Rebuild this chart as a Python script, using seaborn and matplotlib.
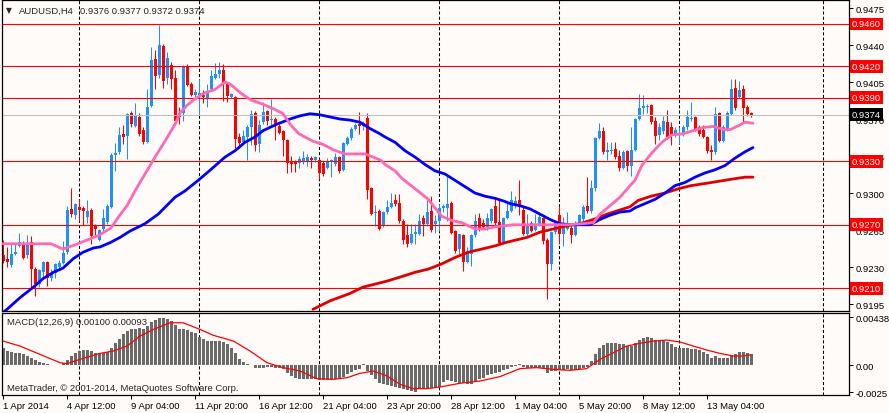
import numpy as np
import matplotlib
matplotlib.use("Agg")
import matplotlib.pyplot as plt
import seaborn as sns

# ---- AUDUSD H4 bars ----
opens = [
    0.9241, 0.9238, 0.9232, 0.9242, 0.9250, 0.9253, 0.9241, 0.9254, 0.9228, 0.9214,
    0.9225, 0.9235, 0.9220, 0.9224, 0.9230, 0.9234, 0.9244, 0.9285, 0.9279, 0.9287,
    0.9286, 0.9277, 0.9284, 0.9269, 0.9256, 0.9266, 0.9273, 0.9287, 0.9336, 0.9339,
    0.9356, 0.9354, 0.9376, 0.9363, 0.9372, 0.9360, 0.9348, 0.9382, 0.9427, 0.9412,
    0.9439, 0.9409, 0.9421, 0.9409, 0.9376, 0.9376, 0.9420, 0.9403, 0.9393, 0.9392,
    0.9393, 0.9389, 0.9398, 0.9409, 0.9413, 0.9416, 0.9403, 0.9391, 0.9391, 0.9353,
    0.9348, 0.9353, 0.9362, 0.9376, 0.9346, 0.9367, 0.9378, 0.9369, 0.9370, 0.9363,
    0.9359, 0.9350, 0.9330, 0.9329, 0.9328, 0.9330, 0.9329, 0.9333, 0.9331, 0.9331,
    0.9328, 0.9324, 0.9329, 0.9327, 0.9334, 0.9322, 0.9346, 0.9352, 0.9361, 0.9365,
    0.9363, 0.9371, 0.9305, 0.9281, 0.9283, 0.9269, 0.9282, 0.9287, 0.9293, 0.9291,
    0.9274, 0.9260, 0.9253, 0.9261, 0.9261, 0.9276, 0.9271, 0.9283, 0.9271, 0.9274,
    0.9286, 0.9286, 0.9291, 0.9264, 0.9247, 0.9260, 0.9235, 0.9242, 0.9260, 0.9276,
    0.9272, 0.9268, 0.9274, 0.9288, 0.9273, 0.9254, 0.9276, 0.9283, 0.9288, 0.9293,
    0.9284, 0.9261, 0.9272, 0.9265, 0.9271, 0.9276, 0.9256, 0.9233, 0.9263, 0.9279,
    0.9261, 0.9266, 0.9267, 0.9260, 0.9272, 0.9275, 0.9288, 0.9283, 0.9305, 0.9352,
    0.9359, 0.9339, 0.9340, 0.9342, 0.9335, 0.9324, 0.9340, 0.9326, 0.9341, 0.9370,
    0.9380, 0.9381, 0.9383, 0.9368, 0.9355, 0.9359, 0.9367, 0.9362, 0.9356, 0.9355,
    0.9356, 0.9362, 0.9370, 0.9372, 0.9362, 0.9360, 0.9353, 0.9341, 0.9339, 0.9376,
    0.9349, 0.9360, 0.9375, 0.9399, 0.9391, 0.9398, 0.9381, 0.9376,
]
highs = [
    0.9256, 0.9249, 0.9252, 0.9252, 0.9262, 0.9255, 0.9260, 0.9259, 0.9230, 0.9228,
    0.9236, 0.9236, 0.9228, 0.9234, 0.9237, 0.9255, 0.9288, 0.9305, 0.9291, 0.9294,
    0.9288, 0.9293, 0.9286, 0.9271, 0.9266, 0.9285, 0.9290, 0.9338, 0.9347, 0.9362,
    0.9364, 0.9376, 0.9378, 0.9385, 0.9376, 0.9362, 0.9398, 0.9438, 0.9435, 0.9459,
    0.9441, 0.9433, 0.9424, 0.9416, 0.9381, 0.9421, 0.9422, 0.9405, 0.9398, 0.9408,
    0.9397, 0.9403, 0.9416, 0.9423, 0.9424, 0.9422, 0.9405, 0.9395, 0.9392, 0.9357,
    0.9360, 0.9364, 0.9379, 0.9378, 0.9369, 0.9386, 0.9379, 0.9389, 0.9372, 0.9365,
    0.9360, 0.9351, 0.9335, 0.9331, 0.9335, 0.9340, 0.9337, 0.9335, 0.9335, 0.9332,
    0.9330, 0.9333, 0.9332, 0.9338, 0.9335, 0.9348, 0.9354, 0.9362, 0.9366, 0.9377,
    0.9368, 0.9376, 0.9306, 0.9289, 0.9285, 0.9283, 0.9293, 0.9300, 0.9299, 0.9299,
    0.9275, 0.9271, 0.9271, 0.9271, 0.9280, 0.9279, 0.9293, 0.9297, 0.9279, 0.9290,
    0.9290, 0.9317, 0.9292, 0.9265, 0.9261, 0.9261, 0.9249, 0.9261, 0.9280, 0.9281,
    0.9275, 0.9281, 0.9286, 0.9296, 0.9293, 0.9277, 0.9291, 0.9302, 0.9297, 0.9312,
    0.9288, 0.9280, 0.9274, 0.9280, 0.9280, 0.9277, 0.9257, 0.9264, 0.9274, 0.9288,
    0.9277, 0.9282, 0.9269, 0.9274, 0.9280, 0.9289, 0.9315, 0.9312, 0.9353, 0.9366,
    0.9362, 0.9348, 0.9348, 0.9348, 0.9341, 0.9341, 0.9341, 0.9362, 0.9371, 0.9394,
    0.9393, 0.9384, 0.9384, 0.9372, 0.9366, 0.9373, 0.9379, 0.9367, 0.9362, 0.9362,
    0.9364, 0.9379, 0.9386, 0.9373, 0.9364, 0.9364, 0.9354, 0.9345, 0.9381, 0.9377,
    0.9364, 0.9378, 0.9408, 0.9408, 0.9406, 0.9402, 0.9383, 0.9377,
]
lows = [
    0.9234, 0.9230, 0.9230, 0.9241, 0.9249, 0.9238, 0.9239, 0.9211, 0.9203, 0.9211,
    0.9220, 0.9212, 0.9217, 0.9220, 0.9228, 0.9233, 0.9242, 0.9277, 0.9275, 0.9274,
    0.9270, 0.9272, 0.9252, 0.9258, 0.9255, 0.9264, 0.9271, 0.9286, 0.9321, 0.9337,
    0.9346, 0.9332, 0.9362, 0.9362, 0.9354, 0.9346, 0.9347, 0.9381, 0.9398, 0.9409,
    0.9399, 0.9403, 0.9398, 0.9367, 0.9365, 0.9368, 0.9401, 0.9392, 0.9391, 0.9374,
    0.9385, 0.9381, 0.9397, 0.9408, 0.9409, 0.9387, 0.9386, 0.9390, 0.9343, 0.9343,
    0.9346, 0.9331, 0.9345, 0.9340, 0.9339, 0.9365, 0.9364, 0.9364, 0.9350, 0.9356,
    0.9335, 0.9319, 0.9320, 0.9320, 0.9324, 0.9327, 0.9326, 0.9324, 0.9329, 0.9313,
    0.9316, 0.9323, 0.9315, 0.9326, 0.9319, 0.9321, 0.9345, 0.9350, 0.9360, 0.9356,
    0.9360, 0.9294, 0.9279, 0.9269, 0.9265, 0.9268, 0.9280, 0.9286, 0.9288, 0.9272,
    0.9252, 0.9249, 0.9252, 0.9252, 0.9260, 0.9259, 0.9269, 0.9263, 0.9262, 0.9264,
    0.9282, 0.9274, 0.9261, 0.9243, 0.9242, 0.9226, 0.9234, 0.9231, 0.9258, 0.9264,
    0.9266, 0.9265, 0.9272, 0.9269, 0.9252, 0.9252, 0.9275, 0.9282, 0.9286, 0.9279,
    0.9260, 0.9259, 0.9263, 0.9264, 0.9269, 0.9252, 0.9200, 0.9227, 0.9261, 0.9252,
    0.9250, 0.9265, 0.9253, 0.9259, 0.9271, 0.9274, 0.9281, 0.9281, 0.9302, 0.9351,
    0.9337, 0.9331, 0.9337, 0.9332, 0.9321, 0.9323, 0.9321, 0.9316, 0.9340, 0.9369,
    0.9375, 0.9376, 0.9365, 0.9346, 0.9350, 0.9356, 0.9351, 0.9345, 0.9353, 0.9346,
    0.9354, 0.9360, 0.9368, 0.9359, 0.9354, 0.9352, 0.9338, 0.9331, 0.9337, 0.9348,
    0.9348, 0.9359, 0.9374, 0.9379, 0.9390, 0.9367, 0.9373, 0.9372,
]
closes = [
    0.9236, 0.9235, 0.9242, 0.9244, 0.9254, 0.9239, 0.9252, 0.9228, 0.9214, 0.9227,
    0.9235, 0.9220, 0.9223, 0.9233, 0.9234, 0.9243, 0.9284, 0.9280, 0.9290, 0.9284,
    0.9283, 0.9283, 0.9259, 0.9266, 0.9265, 0.9276, 0.9288, 0.9336, 0.9338, 0.9355,
    0.9353, 0.9375, 0.9365, 0.9374, 0.9356, 0.9348, 0.9381, 0.9426, 0.9411, 0.9440,
    0.9406, 0.9428, 0.9408, 0.9368, 0.9372, 0.9420, 0.9402, 0.9393, 0.9396, 0.9395,
    0.9391, 0.9395, 0.9411, 0.9413, 0.9416, 0.9403, 0.9392, 0.9394, 0.9351, 0.9347,
    0.9354, 0.9362, 0.9375, 0.9345, 0.9364, 0.9377, 0.9368, 0.9370, 0.9365, 0.9357,
    0.9350, 0.9328, 0.9327, 0.9327, 0.9332, 0.9333, 0.9334, 0.9331, 0.9334, 0.9319,
    0.9318, 0.9329, 0.9331, 0.9334, 0.9321, 0.9347, 0.9352, 0.9361, 0.9364, 0.9363,
    0.9366, 0.9303, 0.9280, 0.9282, 0.9266, 0.9282, 0.9287, 0.9291, 0.9290, 0.9274,
    0.9256, 0.9252, 0.9261, 0.9263, 0.9274, 0.9271, 0.9282, 0.9265, 0.9274, 0.9286,
    0.9288, 0.9290, 0.9262, 0.9245, 0.9261, 0.9235, 0.9244, 0.9260, 0.9274, 0.9266,
    0.9268, 0.9276, 0.9285, 0.9272, 0.9253, 0.9276, 0.9283, 0.9293, 0.9292, 0.9287,
    0.9261, 0.9271, 0.9264, 0.9271, 0.9277, 0.9255, 0.9233, 0.9263, 0.9272, 0.9261,
    0.9268, 0.9271, 0.9260, 0.9272, 0.9279, 0.9287, 0.9283, 0.9305, 0.9352, 0.9359,
    0.9339, 0.9341, 0.9341, 0.9334, 0.9324, 0.9339, 0.9326, 0.9341, 0.9370, 0.9380,
    0.9382, 0.9382, 0.9367, 0.9354, 0.9362, 0.9368, 0.9353, 0.9355, 0.9360, 0.9356,
    0.9362, 0.9372, 0.9371, 0.9360, 0.9356, 0.9353, 0.9340, 0.9339, 0.9375, 0.9349,
    0.9362, 0.9376, 0.9398, 0.9380, 0.9397, 0.9380, 0.9375, 0.9374,
]

# moving averages, sampled along the chart (bar index, price)
ma_pink_bar = [0, 4, 7, 10, 12, 15, 18, 22, 24, 27, 29, 31, 33, 35.5, 38, 40.5, 43, 44.3,
               46, 48, 50, 53, 55.5, 56.8, 59.3, 62, 65, 68, 70, 72, 74, 77.5, 80, 82.5,
               85.5, 90.5, 92.5, 94.5, 95.5, 98, 99.7, 102, 104.7, 106.3, 108, 109.7,
               112.2, 114.7, 118, 120.5, 123, 125.5, 127.6, 132.6, 136.75, 141, 145,
               147.6, 149.25, 151.75, 154.25, 156.75, 158, 159.7, 162, 164.7, 167.2,
               170, 172.5, 175, 177.5, 180.2, 181.8, 183.5, 185.5, 187.5]
ma_pink_val = [0.9252, 0.9252, 0.9252, 0.9252, 0.9252, 0.9247, 0.9251, 0.9257, 0.9260,
               0.9267, 0.9278, 0.9288, 0.9302, 0.9318, 0.9334, 0.9349, 0.9365, 0.9376,
               0.9383, 0.9389, 0.9394, 0.9398, 0.9405, 0.9403, 0.9395, 0.9388, 0.9384,
               0.9379, 0.9375, 0.9364, 0.9356, 0.9349, 0.9346, 0.9341, 0.9337, 0.9337,
               0.9334, 0.9331, 0.9327, 0.9321, 0.9314, 0.9307, 0.9299, 0.9294, 0.9286,
               0.9278, 0.9274, 0.9272, 0.9266, 0.9266, 0.9268, 0.9269, 0.9270, 0.9270,
               0.9270, 0.9270, 0.9271, 0.9272, 0.9280, 0.9288, 0.9296, 0.9307, 0.9312,
               0.9326, 0.9337, 0.9348, 0.9355, 0.9356, 0.9359, 0.9362, 0.9363, 0.9360,
               0.9360, 0.9363, 0.9367, 0.9366]

ma_blue_bar = [0, 1, 4.25, 7.6, 10, 12.6, 15, 17.6, 20, 22.6, 24.25, 26.75, 29.25, 31.75,
               35.5, 38.8, 43, 45.5, 48.8, 52.2, 55.5, 58, 60.5, 63, 65, 68.4, 71.75,
               74.25, 76.75, 79.25, 81.75, 84.25, 86.75, 89.25, 91.75, 94.25, 95.5, 98,
               100.5, 103, 105.5, 108, 110.5, 113, 115.5, 118, 120.5, 123, 125.5, 126.75,
               129.25, 131.75, 134.25, 136.75, 139.25, 141.75, 144.25, 146.75, 149.25,
               151.75, 154.25, 156.75, 158, 160.5, 163, 165.5, 168, 170.5, 173, 175.5,
               178, 180.5, 183, 185.5, 187.5]
ma_blue_val = [0.9187, 0.9190, 0.9201, 0.9211, 0.9219, 0.9225, 0.9229, 0.9238, 0.9244,
               0.9248, 0.9249, 0.9253, 0.9258, 0.9264, 0.9271, 0.9280, 0.9296, 0.9302,
               0.9312, 0.9323, 0.9334, 0.9340, 0.9348, 0.9353, 0.9359, 0.9365, 0.9370,
               0.9373, 0.9375, 0.9374, 0.9372, 0.9370, 0.9369, 0.9367, 0.9361, 0.9356,
               0.9353, 0.9348, 0.9340, 0.9334, 0.9327, 0.9321, 0.9318, 0.9312, 0.9306,
               0.9300, 0.9297, 0.9295, 0.9292, 0.9290, 0.9288, 0.9285, 0.9280, 0.9275,
               0.9271, 0.9270, 0.9270, 0.9270, 0.9275, 0.9279, 0.9282, 0.9283, 0.9286,
               0.9290, 0.9294, 0.9300, 0.9307, 0.9310, 0.9315, 0.9319, 0.9322, 0.9326,
               0.9333, 0.9339, 0.9343]

ma_red_bar = [77.5, 81.75, 86.75, 90, 94.25, 96.3, 99.7, 103, 106.3, 109.7, 113, 116.3,
              119.7, 123, 125.5, 127.6, 131, 134.25, 137.6, 141, 144.25, 147.6, 151,
              154.25, 156.75, 158.8, 162, 165.5, 168.8, 172, 175.5, 178.8, 182, 185.5,
              187.5]
ma_red_val = [0.9190, 0.9198, 0.9205, 0.9211, 0.9215, 0.9217, 0.9221, 0.9225, 0.9228,
              0.9233, 0.9239, 0.9244, 0.9247, 0.9250, 0.9253, 0.9255, 0.9258, 0.9263,
              0.9266, 0.9269, 0.9271, 0.9275, 0.9280, 0.9284, 0.9287, 0.9293, 0.9297,
              0.9300, 0.9304, 0.9307, 0.9309, 0.9311, 0.9313, 0.9315, 0.9315]

# MACD(12,26,9) main line, one value per bar
macd_hist = [
    0.00152, 0.00128, 0.00119, 0.00112, 0.00106, 0.00097, 0.00082, 0.00067, 0.00043, 0.00027,
    0.00015, 0.00006, -0.00003, -0.00003, 0.00002, 0.00015, 0.00043, 0.00082, 0.00112, 0.00128,
    0.00137, 0.00137, 0.00128, 0.00112, 0.00112, 0.00112, 0.00119, 0.00158, 0.00198, 0.00240,
    0.00280, 0.00310, 0.00325, 0.00331, 0.00340, 0.00331, 0.00356, 0.00392, 0.00410, 0.00432,
    0.00432, 0.00423, 0.00401, 0.00362, 0.00331, 0.00325, 0.00319, 0.00301, 0.00289, 0.00258,
    0.00240, 0.00219, 0.00219, 0.00219, 0.00219, 0.00210, 0.00188, 0.00158, 0.00112, 0.00058,
    0.00027, 0.00012, 0.00003, -0.00030, -0.00030, -0.00024, -0.00018, -0.00018, -0.00024, -0.00030,
    -0.00040, -0.00070, -0.00100, -0.00116, -0.00125, -0.00131, -0.00131, -0.00131, -0.00131, -0.00140,
    -0.00140, -0.00137, -0.00137, -0.00131, -0.00131, -0.00106, -0.00085, -0.00064, -0.00046, -0.00033,
    0.00006, -0.00055, -0.00094, -0.00131, -0.00161, -0.00176, -0.00185, -0.00192, -0.00198, -0.00207,
    -0.00222, -0.00228, -0.00237, -0.00246, -0.00222, -0.00216, -0.00216, -0.00207, -0.00207, -0.00198,
    -0.00155, -0.00140, -0.00146, -0.00155, -0.00161, -0.00167, -0.00176, -0.00176, -0.00155, -0.00131,
    -0.00116, -0.00094, -0.00085, -0.00076, -0.00064, -0.00046, -0.00033, -0.00021, -0.00006, 0.00006,
    -0.00018, -0.00024, -0.00030, -0.00030, -0.00030, -0.00040, -0.00070, -0.00055, -0.00052, -0.00046,
    -0.00046, -0.00040, -0.00046, -0.00046, -0.00040, -0.00027, -0.00021, 0.00036, 0.00097, 0.00152,
    0.00182, 0.00198, 0.00198, 0.00198, 0.00188, 0.00188, 0.00173, 0.00173, 0.00204, 0.00228,
    0.00249, 0.00258, 0.00249, 0.00228, 0.00228, 0.00219, 0.00210, 0.00188, 0.00167, 0.00158,
    0.00158, 0.00158, 0.00149, 0.00143, 0.00134, 0.00119, 0.00097, 0.00067, 0.00082, 0.00067,
    0.00061, 0.00067, 0.00088, 0.00097, 0.00122, 0.00122, 0.00112, 0.00100,
]
signal_bar = [0, 4.25, 9.25, 14.25, 16, 19.25, 24.25, 27.6, 31, 34.25, 37.6, 41.75, 45,
              49.25, 52.6, 57.6, 61.75, 66, 70, 74.25, 78.4, 82.6, 86, 89.25, 92.6, 96,
              99.25, 102.6, 105.9, 109.25, 114.25, 119.25, 124.25, 129.25, 133.4, 137.6,
              141.75, 145.9, 149.25, 152.6, 155.9, 159.25, 162.6, 166, 169.25, 172.6,
              175.9, 179.25, 182.6, 185, 187]
signal_val = [0.00219, 0.00173, 0.00097, 0.00021, 0.00012, 0.00052, 0.00106, 0.00128,
              0.00173, 0.00264, 0.00325, 0.00386, 0.00386, 0.00325, 0.00271, 0.00219,
              0.00128, 0.00021, -0.00024, -0.00055, -0.00125, -0.00131, -0.00116,
              -0.00076, -0.00055, -0.00100, -0.00176, -0.00216, -0.00216, -0.00201,
              -0.00167, -0.00146, -0.00106, -0.00033, -0.00024, -0.00040, -0.00049,
              -0.00033, 0.00052, 0.00112, 0.00173, 0.00198, 0.00219, 0.00228, 0.00210,
              0.00173, 0.00137, 0.00106, 0.00082, 0.00082, 0.00093]

levels = [0.9460, 0.9420, 0.9390, 0.9330, 0.9270, 0.9210]
last_price = 0.9374
price_ticks = [0.9475, 0.9440, 0.9405, 0.9370, 0.9335, 0.9300, 0.9265, 0.9230, 0.9195]
macd_ticks = [0.00438, 0.0, -0.0025]
macd_tick_labels = ["0.00438", "0.00", "-0.0025"]
date_bars = [0, 16, 32, 48, 64, 80, 96, 112, 128, 144, 160, 176]
date_labels = ["1 Apr 2014", "4 Apr 12:00", "9 Apr 04:00", "11 Apr 20:00",
               "16 Apr 12:00", "21 Apr 04:00", "23 Apr 20:00", "28 Apr 12:00",
               "1 May 04:00", "5 May 20:00", "8 May 12:00", "13 May 04:00"]
grid_bars = [19, 49, 79, 109, 139, 169, 205]

BG = "#FFFBF9"
BULL = "#1E90FF"
BEAR = "#FF0000"

sns.set_style("white")
plt.rcParams["font.family"] = ["Liberation Sans", "DejaVu Sans"]
FS = 6.8

W, H = 889, 414
fig = plt.figure(figsize=(W / 100, H / 100), dpi=100, facecolor=BG)
ax = fig.add_axes([2 / W, 102 / H, 847 / W, 311 / H], facecolor=BG)
axm = fig.add_axes([2 / W, 18 / H, 847 / W, 82 / H], facecolor=BG)

# ---- price panel ----
x = np.arange(len(closes))
o = np.array(opens)
c = np.array(closes)
hi = np.array(highs)
lo = np.array(lows)
cols = np.where(c >= o, BULL, BEAR)

for gb in grid_bars:
    ax.axvline(gb, color="black", lw=0.75, ls=(0, (3, 2)), zorder=0.5)
    axm.axvline(gb, color="black", lw=0.75, ls=(0, (3, 2)), zorder=0.5)

ax.vlines(x, lo, hi, colors=cols, lw=0.75, zorder=2)
ax.bar(x, np.maximum(np.abs(c - o), 0.00008), bottom=np.minimum(o, c),
       width=0.75, color=cols, linewidth=0, zorder=2.2)

ax.axhline(last_price, color="#C0C0C0", lw=0.8, zorder=2.4)
for lv in levels:
    ax.axhline(lv, color="#FF0000", lw=0.8, zorder=2.5)

sns.lineplot(x=ma_red_bar, y=ma_red_val, ax=ax, color="#E00000", lw=2.0, zorder=3)
sns.lineplot(x=ma_blue_bar, y=ma_blue_val, ax=ax, color="#0000FF", lw=2.0, zorder=3.1)
sns.lineplot(x=ma_pink_bar, y=ma_pink_val, ax=ax, color="#FF69B4", lw=2.0, zorder=3.2)

ax.set_xlim(-0.25, 211.5)
ax.set_ylim(0.91884, 0.94826)
ax.set_yticks(price_ticks)
ax.set_yticklabels([f"{t:.4f}" for t in price_ticks])
ax.tick_params(axis="y", left=False, labelleft=False, right=True, labelright=True,
               direction="out", length=3, width=0.75, pad=1.5, labelsize=FS, colors="black")
ax.tick_params(axis="x", bottom=False, labelbottom=False)
ax.set_xlabel("")
ax.set_ylabel("")

ytr = ax.get_yaxis_transform()
for lv in levels:
    ax.text(1.0035, lv, f"{lv:.4f}", transform=ytr, ha="left", va="center",
            fontsize=FS, color="white", clip_on=False, zorder=5,
            bbox=dict(boxstyle="square,pad=0.2", fc="#FF0000", ec="none"))
ax.text(1.0035, last_price, f"{last_price:.4f}", transform=ytr, ha="left", va="center",
        fontsize=FS, color="white", clip_on=False, zorder=5,
        bbox=dict(boxstyle="square,pad=0.2", fc="black", ec="none"))

# ---- MACD panel ----
axm.bar(x, macd_hist, width=0.75, color="#6A6A6A", linewidth=0, zorder=2)
sns.lineplot(x=signal_bar, y=signal_val, ax=axm, color="#FF0000", lw=0.9, zorder=3)
axm.set_xlim(-0.25, 211.5)
axm.set_ylim(-0.00274, 0.00475)
axm.set_yticks(macd_ticks)
axm.set_yticklabels(macd_tick_labels)
axm.tick_params(axis="y", left=False, labelleft=False, right=True, labelright=True,
                direction="out", length=3, width=0.75, pad=1.5, labelsize=FS, colors="black")
axm.set_xticks(date_bars)
axm.set_xticklabels(date_labels, ha="left")
axm.tick_params(axis="x", bottom=True, direction="out", length=3, width=0.75,
                pad=1.5, labelsize=FS, colors="black")
axm.set_xlabel("")
axm.set_ylabel("")

for a in (ax, axm):
    for s in a.spines.values():
        s.set_color("black")
        s.set_linewidth(0.9)

# ---- texts ----
fig.text(6 / W, 1 - 11 / H, "\u25bc", fontsize=5.5, va="center", ha="left",
         family=["DejaVu Sans"])
fig.text(19 / W, 1 - 11 / H, "AUDUSD,H4", fontsize=FS, va="center", ha="left")
fig.text(80 / W, 1 - 11 / H, "0.9376 0.9377 0.9372 0.9374", fontsize=FS,
         va="center", ha="left")
fig.text(7 / W, 1 - 322.5 / H, "MACD(12,26,9) 0.00100 0.00093", fontsize=FS,
         va="center", ha="left")
fig.text(7 / W, 1 - 389 / H, "MetaTrader, \u00a9 2001-2014, MetaQuotes Software Corp.",
         fontsize=FS, va="center", ha="left")

fig.savefig("out.png", dpi=100, facecolor=BG)
